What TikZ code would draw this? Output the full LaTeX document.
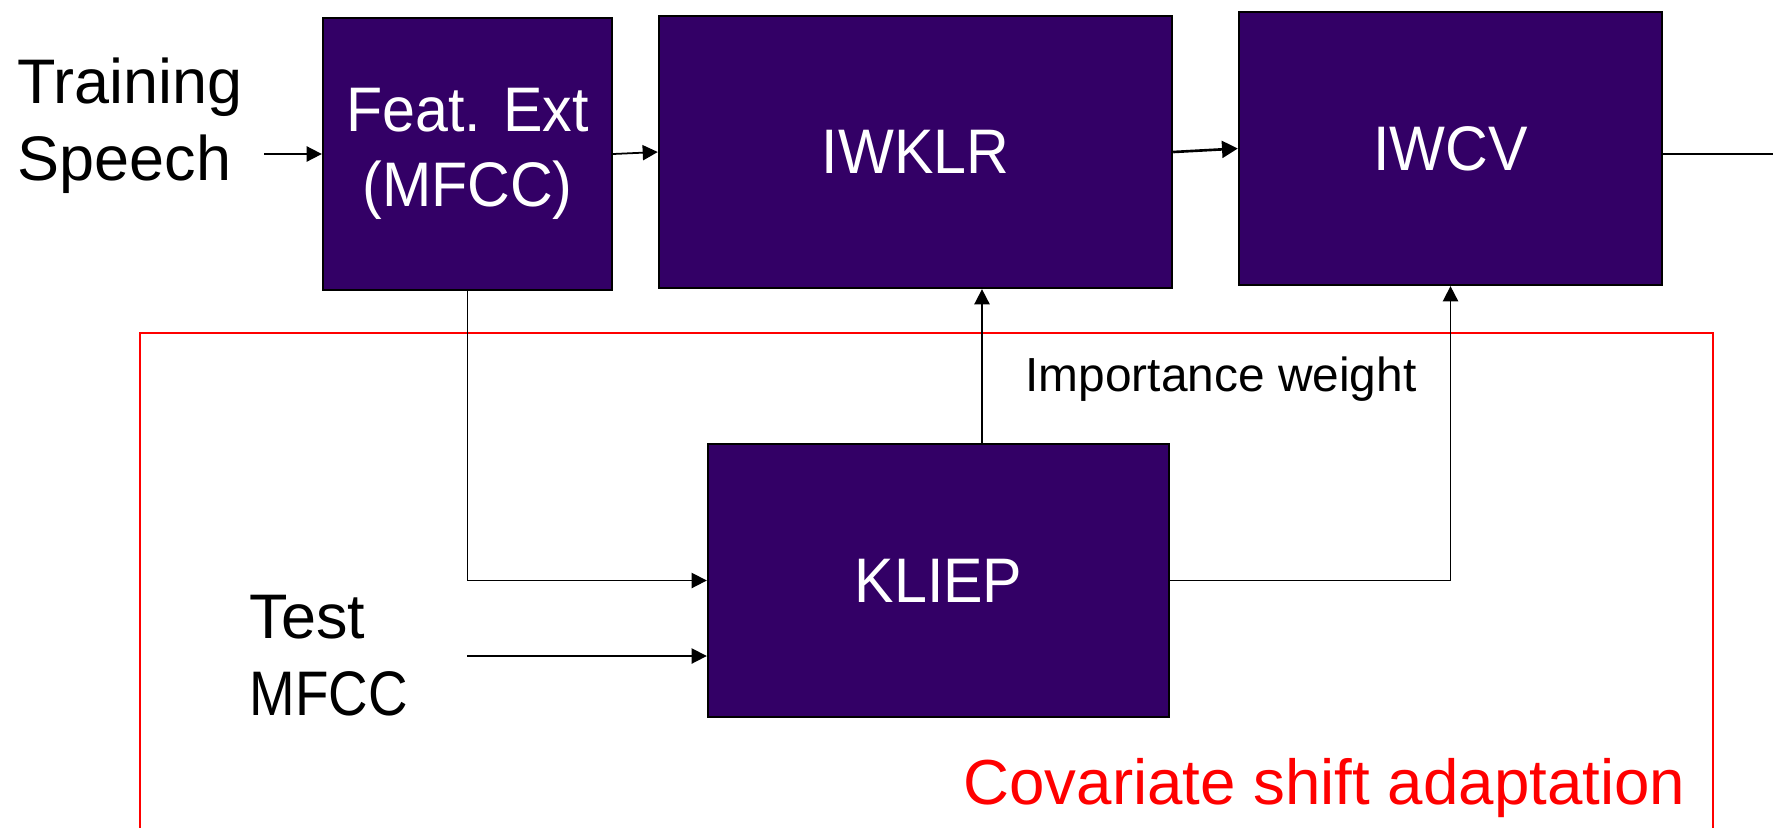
\documentclass[tikz,border=0pt]{standalone}
\usepackage{fontspec}
\usepackage{graphicx}
\setmainfont{Liberation Sans}
\newfontfamily\narrowfont[FakeStretch=0.94]{Liberation Sans}
\usetikzlibrary{arrows.meta,calc}
\definecolor{boxpurple}{RGB}{51,0,102}
\begin{document}
\begin{tikzpicture}[x=0.01cm,y=-0.01cm,
  blk/.style={draw=black,line width=0.6pt,fill=boxpurple,text=white,
    font=\narrowfont\fontsize{17.9}{21.3}\selectfont,align=center,inner sep=0pt},
  lbl/.style={font=\fontsize{17.9}{21.9}\selectfont,align=left,inner sep=0pt,anchor=north west},
  conn/.style={line width=0.5pt,-{Triangle[length=4.3pt,width=4.3pt]}},
  thickconn/.style={line width=0.75pt,-{Triangle[length=4.5pt,width=4.8pt]}},
]
\useasboundingbox (0,0) rectangle (1773,827);
\clip (0,0) rectangle (1773,827);

% red frame (bottom edge lies below the picture)
\draw[red,line width=0.55pt] (140,840) -- (140,333) -- (1713,333) -- (1713,840);

% blocks
\node[blk,minimum width=2.89cm,minimum height=2.72cm,
  execute at begin node={\vspace*{0.16cm}}] (feat) at (467.5,154) {Feat. Ext\\(MFCC)};
\node[blk,minimum width=5.13cm,minimum height=2.72cm] (iwklr) at (915.5,152) {IWKLR};
\node[blk,minimum width=4.23cm,minimum height=2.73cm] (iwcv) at (1450.5,148.5) {IWCV};
\node[blk,minimum width=4.61cm,minimum height=2.73cm] (kliep) at (938.5,580.5) {KLIEP};

% labels
\node[lbl] (train) at (17,57) {Training\\Speech};
\node[lbl] (test) at (249,594) {Test\\\scalebox{0.87}[1]{MFCC}};
\node[font=\fontsize{13.6}{15}\selectfont,inner sep=0pt,anchor=base] (iw) at (1221,391) {Importance weight};
\node[font=\fontsize{18.1}{21}\selectfont,text=red,inner sep=0pt,anchor=base east] (cov) at (1686,804) {Covariate shift adaptation};

% free ends
\coordinate (tin) at (264,154);
\coordinate (testin) at (467,656);
\coordinate (kx) at (982,400);
\coordinate (out) at (1790,154);

% connectors
\draw[conn] (tin) -- (feat.west);
\draw[conn] (feat.east) -- (iwklr.west);
\draw[thickconn] (iwklr.east) -- (iwcv.west);
\draw[conn] (iwcv.east |- out) -- (out);
\draw[conn] (feat.south) |- (kliep.west);
\draw[conn] (testin) -- (kliep.west |- testin);
\draw[conn] (kliep.north -| kx) -- (iwklr.south -| kx);
\draw[conn] (kliep.east) -| (iwcv.south);
\end{tikzpicture}
\end{document}
